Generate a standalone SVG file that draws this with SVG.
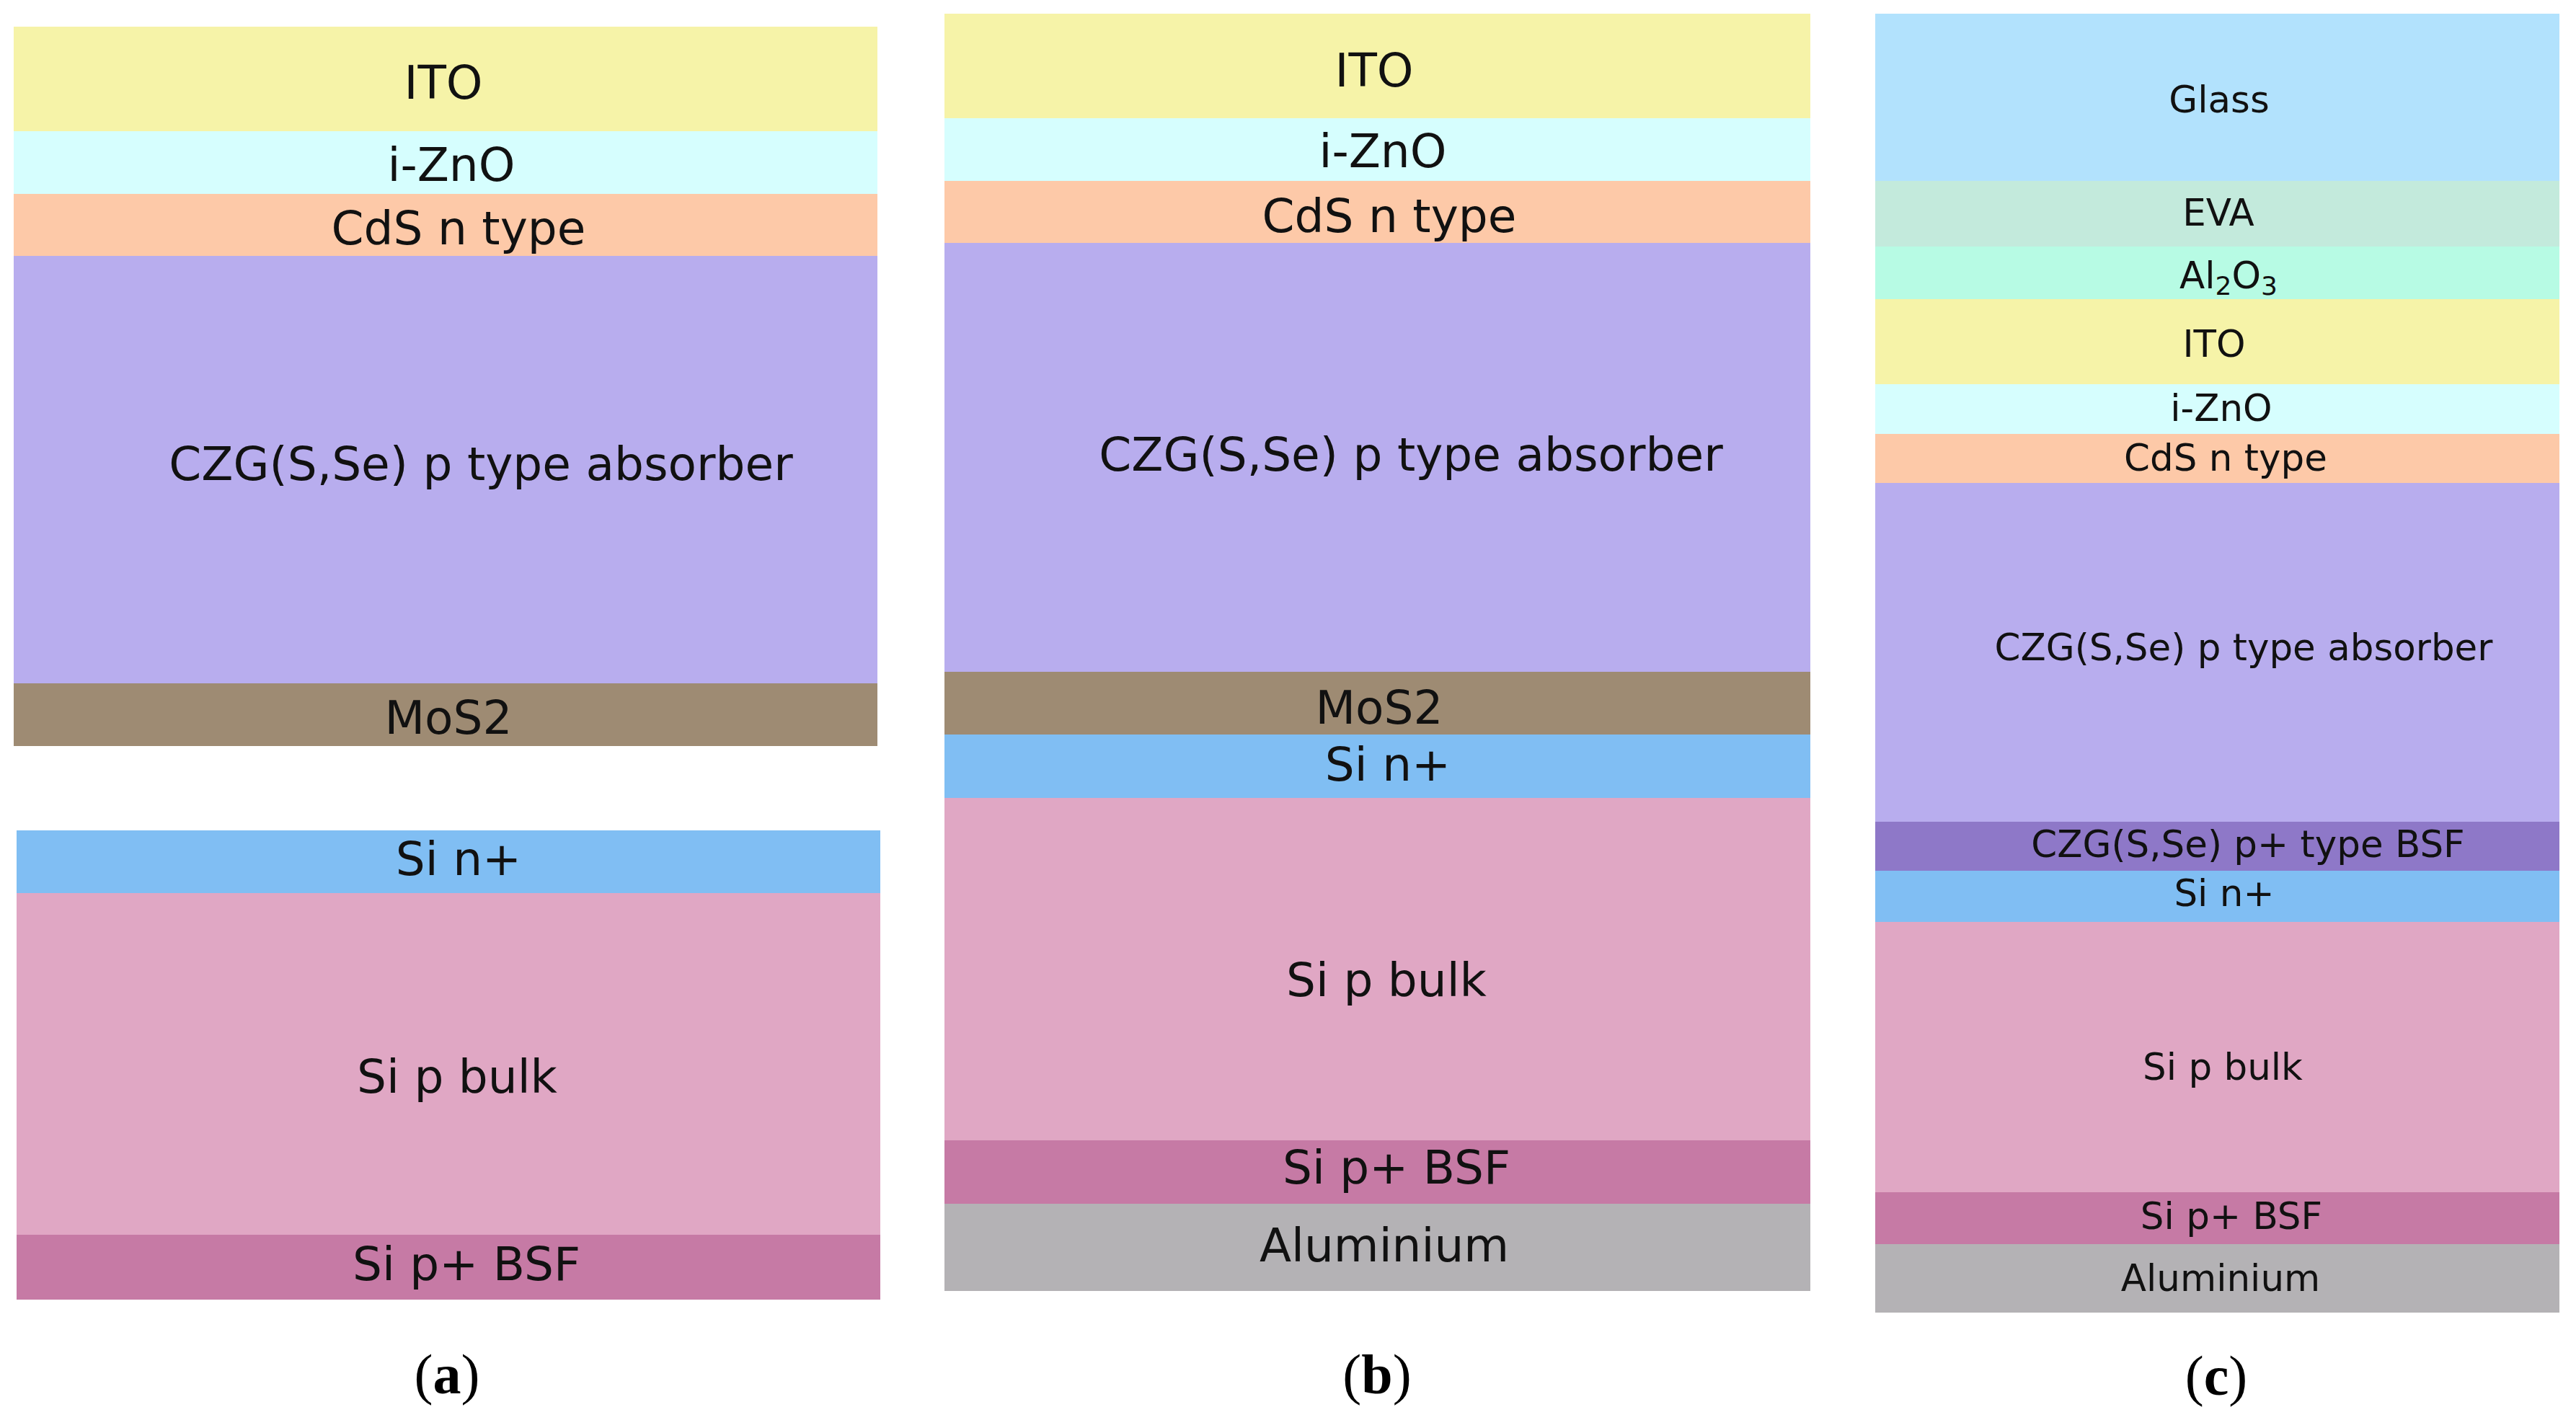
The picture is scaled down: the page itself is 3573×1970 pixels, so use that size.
<svg xmlns="http://www.w3.org/2000/svg" width="3573" height="1970" viewBox="0 0 3573 1970">
<style>
.t{font-family:"DejaVu Sans",Verdana,sans-serif;font-size:64.5px;fill:#111;text-anchor:middle}
.s{font-family:"DejaVu Sans",Verdana,sans-serif;font-size:51.5px;fill:#111;text-anchor:middle}
.cap{font-family:"Liberation Serif","Times New Roman",serif;font-size:78px;fill:#000;text-anchor:middle}
.ito{fill:#F6F3A8}.zno{fill:#D6FEFE}.cds{fill:#FDC9A8}.czg{fill:#B8ADEE}.mos{fill:#9E8B73}
.sin{fill:#80BEF3}.bulk{fill:#E0A7C4}.bsf{fill:#C67AA5}.al{fill:#B4B2B5}
.glass{fill:#B2E2FD}.eva{fill:#C3EADC}.alo{fill:#B7FBE4}.czgbsf{fill:#8E78C8}
</style>
<rect width="3573" height="1970" fill="#fff"/>
<g id="panel-a">
<g id="a-ito"><rect class="ito" x="19" y="37" width="1198" height="145"/><text class="t" x="615" y="137">ITO</text></g>
<g id="a-zno"><rect class="zno" x="19" y="182" width="1198" height="87"/><text class="t" x="626" y="251">i-ZnO</text></g>
<g id="a-cds"><rect class="cds" x="19" y="269" width="1198" height="86"/><text class="t" x="636" y="339">CdS n type</text></g>
<g id="a-czg"><rect class="czg" x="19" y="355" width="1198" height="593"/><text class="t" x="667" y="666">CZG(S,Se) p type absorber</text></g>
<g id="a-mos2"><rect class="mos" x="19" y="948" width="1198" height="87"/><text class="t" x="622" y="1018">MoS2</text></g>
<g id="a-sin"><rect class="sin" x="23" y="1152" width="1198" height="87"/><text class="t" x="636" y="1214">Si n+</text></g>
<g id="a-bulk"><rect class="bulk" x="23" y="1239" width="1198" height="474"/><text class="t" x="634" y="1516">Si p bulk</text></g>
<g id="a-bsf"><rect class="bsf" x="23" y="1713" width="1198" height="90"/><text class="t" x="647" y="1776">Si p+ BSF</text></g>
<text id="cap-a" class="cap" x="620" y="1933">(<tspan font-weight="bold">a</tspan>)</text>
</g>
<g id="panel-b">
<g id="b-ito"><rect class="ito" x="1310" y="19" width="1201" height="145"/><text class="t" x="1906" y="120">ITO</text></g>
<g id="b-zno"><rect class="zno" x="1310" y="164" width="1201" height="87"/><text class="t" x="1918" y="232">i-ZnO</text></g>
<g id="b-cds"><rect class="cds" x="1310" y="251" width="1201" height="86"/><text class="t" x="1927" y="322">CdS n type</text></g>
<g id="b-czg"><rect class="czg" x="1310" y="337" width="1201" height="595"/><text class="t" x="1957" y="653">CZG(S,Se) p type absorber</text></g>
<g id="b-mos2"><rect class="mos" x="1310" y="932" width="1201" height="87"/><text class="t" x="1913" y="1004">MoS2</text></g>
<g id="b-sin"><rect class="sin" x="1310" y="1019" width="1201" height="88"/><text class="t" x="1925" y="1083">Si n+</text></g>
<g id="b-bulk"><rect class="bulk" x="1310" y="1107" width="1201" height="475"/><text class="t" x="1923" y="1382">Si p bulk</text></g>
<g id="b-bsf"><rect class="bsf" x="1310" y="1582" width="1201" height="88"/><text class="t" x="1937" y="1642">Si p+ BSF</text></g>
<g id="b-al"><rect class="al" x="1310" y="1670" width="1201" height="121"/><text class="t" x="1920" y="1750">Aluminium</text></g>
<text id="cap-b" class="cap" x="1910" y="1933">(<tspan font-weight="bold">b</tspan>)</text>
</g>
<g id="panel-c">
<g id="c-glass"><rect class="glass" x="2601" y="19" width="949" height="232"/><text class="s" x="3078" y="156">Glass</text></g>
<g id="c-eva"><rect class="eva" x="2601" y="251" width="949" height="91"/><text class="s" x="3077" y="313">EVA</text></g>
<g id="c-al2o3"><rect class="alo" x="2601" y="342" width="949" height="73"/><text class="s" x="3091" y="400">Al<tspan font-size="36" dy="9">2</tspan><tspan dy="-9">O</tspan><tspan font-size="36" dy="9">3</tspan></text></g>
<g id="c-ito"><rect class="ito" x="2601" y="415" width="949" height="118"/><text class="s" x="3071" y="495">ITO</text></g>
<g id="c-zno"><rect class="zno" x="2601" y="533" width="949" height="69"/><text class="s" x="3081" y="584">i-ZnO</text></g>
<g id="c-cds"><rect class="cds" x="2601" y="602" width="949" height="68"/><text class="s" x="3087" y="653">CdS n type</text></g>
<g id="c-czg"><rect class="czg" x="2601" y="670" width="949" height="470"/><text class="s" x="3112" y="916">CZG(S,Se) p type absorber</text></g>
<g id="c-czgbsf"><rect class="czgbsf" x="2601" y="1140" width="949" height="68"/><text class="s" x="3118" y="1189">CZG(S,Se) p+ type BSF</text></g>
<g id="c-sin"><rect class="sin" x="2601" y="1208" width="949" height="71"/><text class="s" x="3085" y="1257">Si n+</text></g>
<g id="c-bulk"><rect class="bulk" x="2601" y="1279" width="949" height="375"/><text class="s" x="3083" y="1498">Si p bulk</text></g>
<g id="c-bsf"><rect class="bsf" x="2601" y="1654" width="949" height="72"/><text class="s" x="3095" y="1705">Si p+ BSF</text></g>
<g id="c-al"><rect class="al" x="2601" y="1726" width="949" height="95"/><text class="s" x="3080" y="1791">Aluminium</text></g>
<text id="cap-c" class="cap" x="3074" y="1935">(<tspan font-weight="bold">c</tspan>)</text>
</g>
<g id="connectors"/>
</svg>
